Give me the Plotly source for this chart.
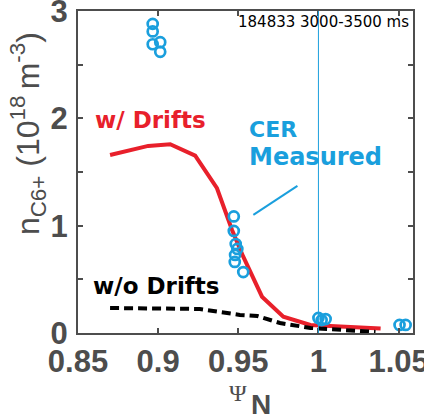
import plotly.graph_objects as go

# CER measured C6+ density (psi_N, n in 1e18 m^-3)
cer_psi = [0.8966, 0.8966, 0.8966, 0.9013, 0.9013,
           0.9472, 0.9472, 0.9484, 0.9494, 0.9480, 0.9478, 0.9531,
           1.0000, 1.0020, 1.0045,
           1.0506, 1.0544]
cer_n = [2.88, 2.81, 2.69, 2.71, 2.62,
         1.086, 0.951, 0.829, 0.783, 0.727, 0.662, 0.568,
         0.14, 0.12, 0.13,
         0.075, 0.075]

# Simulation with drifts
drift_psi = [0.870, 0.8938, 0.9075, 0.9231, 0.9367, 0.9461, 0.9531,
             0.9648, 0.9781, 0.995, 1.0388]
drift_n = [1.659, 1.743, 1.759, 1.652, 1.349, 0.96, 0.711,
           0.338, 0.152, 0.075, 0.042]

# Simulation without drifts
nodrift_psi = [0.870, 0.926, 0.951, 0.962, 0.976, 0.995, 1.0356]
nodrift_n = [0.233, 0.224, 0.168, 0.158, 0.093, 0.047, 0.010]

separatrix = 1.0
x_ticks = [0.85, 0.9, 0.95, 1.0, 1.05]
x_ticktext = ["0.85", "0.9", "0.95", "1", "1.05"]
y_ticks = [0, 0.5, 1, 1.5, 2, 2.5, 3]
y_ticktext = ["0", "", "1", "", "2", "", "3"]

RED = "#E8202B"
BLUE = "#1A9FDD"
GRAY = "#4D4D4D"

fig = go.Figure()
fig.add_trace(go.Scatter(x=drift_psi, y=drift_n, mode="lines",
                         line=dict(color=RED, width=4), showlegend=False))
fig.add_trace(go.Scatter(x=nodrift_psi, y=nodrift_n, mode="lines",
                         line=dict(color="black", width=4, dash="9px,5px"),
                         showlegend=False))
fig.add_trace(go.Scatter(x=cer_psi, y=cer_n, mode="markers", cliponaxis=False,
                         marker=dict(symbol="circle-open", size=10, color=BLUE,
                                     line=dict(color=BLUE, width=2.7)),
                         showlegend=False))

# separatrix marker
fig.add_shape(type="line", x0=separatrix, x1=separatrix, y0=0, y1=1,
              xref="x", yref="paper", line=dict(color=BLUE, width=1))
# pointer from the CER label
fig.add_shape(type="line", x0=0.9594, y0=1.10, x1=0.9869, y1=1.37,
              xref="x", yref="y", line=dict(color=BLUE, width=2))

ann_font = "DejaVu Sans"
fig.add_annotation(x=0.8594, y=1.985, text="w/ Drifts", showarrow=False,
                   xanchor="left", yanchor="middle",
                   font=dict(family=ann_font, size=23, color=RED, weight="bold"))
fig.add_annotation(x=0.8581, y=0.438, text="w/o Drifts", showarrow=False,
                   xanchor="left", yanchor="middle",
                   font=dict(family=ann_font, size=23, color="black", weight="bold"))
fig.add_annotation(x=0.9556, y=1.90, text="CER", showarrow=False,
                   xanchor="left", yanchor="middle",
                   font=dict(family=ann_font, size=22, color=BLUE, weight="bold"))
fig.add_annotation(x=0.9556, y=1.64, text="Measured", showarrow=False,
                   xanchor="left", yanchor="middle",
                   font=dict(family=ann_font, size=24, color=BLUE, weight="bold"))
fig.add_annotation(x=0.9488, y=2.90, text="184833 3000-3500 ms", showarrow=False,
                   xanchor="left", yanchor="middle",
                   font=dict(family=ann_font, size=15, color="black"))

# axis titles
fig.add_annotation(xref="paper", yref="paper", x=-0.150, y=0.62,
                   text="n<sub>C6+</sub> (10<sup>18 </sup>m<sup>-3</sup>)",
                   textangle=-90, showarrow=False, xanchor="center", yanchor="middle",
                   font=dict(family="Liberation Sans", size=32, color=GRAY))
fig.add_annotation(xref="paper", yref="paper", x=0.51, y=-0.185,
                   text="Ψ", showarrow=False, xanchor="right", yanchor="middle",
                   font=dict(family="Liberation Serif", size=24, color=GRAY))
fig.add_annotation(xref="paper", yref="paper", x=0.51, y=-0.222,
                   text="N", showarrow=False, xanchor="left", yanchor="middle",
                   font=dict(family="Liberation Sans", size=28, color=GRAY, weight="bold"))

axis_common = dict(showgrid=False, zeroline=False, showline=True, linecolor=GRAY,
                   linewidth=2, mirror="ticks", ticks="inside", ticklen=5,
                   tickwidth=1.5, tickcolor=GRAY, ticklabeloverflow="allow",
                   automargin=False,
                   tickfont=dict(family="Liberation Sans", size=31, color=GRAY,
                                 weight="bold"))

fig.update_xaxes(range=[0.85, 1.059], tickvals=x_ticks, ticktext=x_ticktext,
                 **axis_common)
fig.update_yaxes(range=[0, 3], tickvals=y_ticks, ticktext=y_ticktext,
                 ticklabelstandoff=2, **axis_common)

fig.update_layout(width=424, height=417,
                  margin=dict(l=78, r=11, t=11, b=84),
                  plot_bgcolor="white", paper_bgcolor="white")

fig.write_html("out.html")
